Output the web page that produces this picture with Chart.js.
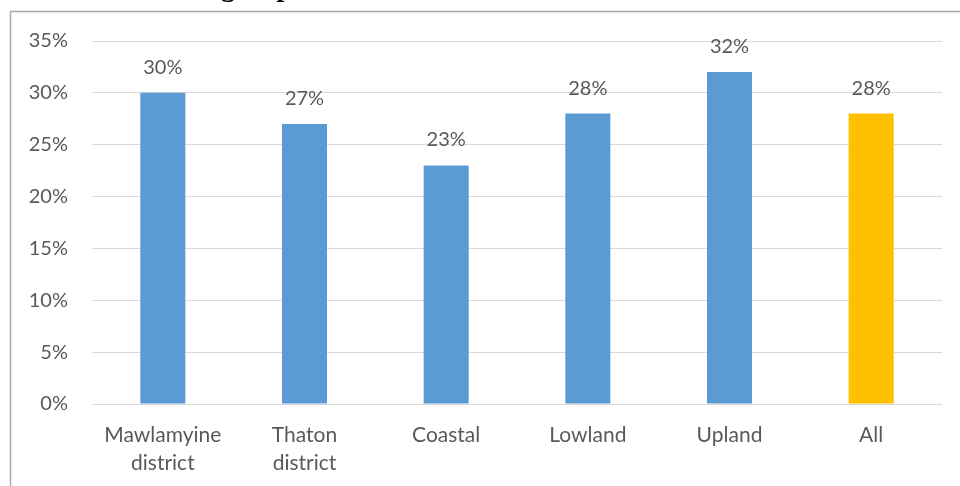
<!DOCTYPE html>
<html>
<head>
<meta charset="utf-8">
<script src="https://cdn.jsdelivr.net/npm/chart.js@4.4.1/dist/chart.umd.min.js"></script>
<style>
  html, body { margin: 0; padding: 0; background: #fff; }
  #wrap { position: relative; width: 960px; height: 486px; }
</style>
</head>
<body>
<div id="wrap"><canvas id="c" width="960" height="486"></canvas></div>
<script>
const categories = [["Mawlamyine", "district"], ["Thaton", "district"], "Coastal", "Lowland", "Upland", "All"];
const values = [30, 27, 23, 28, 32, 28];
const barColors = ["#5B9BD5", "#5B9BD5", "#5B9BD5", "#5B9BD5", "#5B9BD5", "#FFC000"];
const yTicks = [0, 5, 10, 15, 20, 25, 30, 35];
const titleFragment = "group";

const FONT = "Lato, 'Open Sans', sans-serif";

const framePlugin = {
  id: 'frame',
  beforeDraw(chart) {
    const ctx = chart.ctx;
    ctx.save();
    ctx.strokeStyle = '#A9A9A9';
    ctx.lineWidth = 1.5;
    ctx.beginPath();
    ctx.moveTo(10.5, 486);
    ctx.lineTo(10.5, 11.5);
    ctx.lineTo(960, 11.5);
    ctx.stroke();
    ctx.fillStyle = '#000';
    ctx.font = "bold 28px 'Liberation Serif', serif";
    ctx.textBaseline = 'alphabetic';
    ctx.textAlign = 'left';
    ctx.fillText(titleFragment, 221, -4);
    ctx.restore();
  }
};

const labelPlugin = {
  id: 'valueLabels',
  afterDatasetsDraw(chart) {
    const ctx = chart.ctx;
    const meta = chart.getDatasetMeta(0);
    ctx.save();
    ctx.fillStyle = '#595959';
    ctx.font = "20px " + FONT;
    ctx.textAlign = 'center';
    ctx.textBaseline = 'alphabetic';
    meta.data.forEach((bar, i) => {
      ctx.fillText(values[i] + '%', bar.x, bar.y - 19);
    });
    ctx.restore();
  }
};

new Chart(document.getElementById('c'), {
  type: 'bar',
  data: {
    labels: categories,
    datasets: [{
      data: values,
      backgroundColor: barColors,
      borderWidth: 0,
      barPercentage: 1,
      categoryPercentage: 0.318
    }]
  },
  options: {
    responsive: false,
    animation: false,
    events: [],
    layout: { padding: { left: 0, right: 18, top: 41, bottom: 0 } },
    plugins: { legend: { display: false }, tooltip: { enabled: false }, title: { display: false } },
    scales: {
      y: {
        min: 0, max: 35,
        afterBuildTicks(scale) { scale.ticks = yTicks.map(v => ({ value: v })); },
        afterFit(scale) { scale.width = 92; },
        grid: { color: '#D9D9D9', lineWidth: 1, drawTicks: false },
        border: { display: false },
        ticks: {
          padding: 24,
          color: '#595959',
          font: { family: FONT, size: 20 },
          callback: v => v + '%'
        }
      },
      x: {
        afterFit(scale) { scale.height = 82; },
        grid: { display: false, drawTicks: false },
        border: { display: false },
        ticks: {
          padding: 17,
          color: '#595959',
          maxRotation: 0,
          autoSkip: false,
          font: { family: FONT, size: 21, lineHeight: 1.34 }
        }
      }
    }
  },
  plugins: [framePlugin, labelPlugin]
});
</script>
</body>
</html>
